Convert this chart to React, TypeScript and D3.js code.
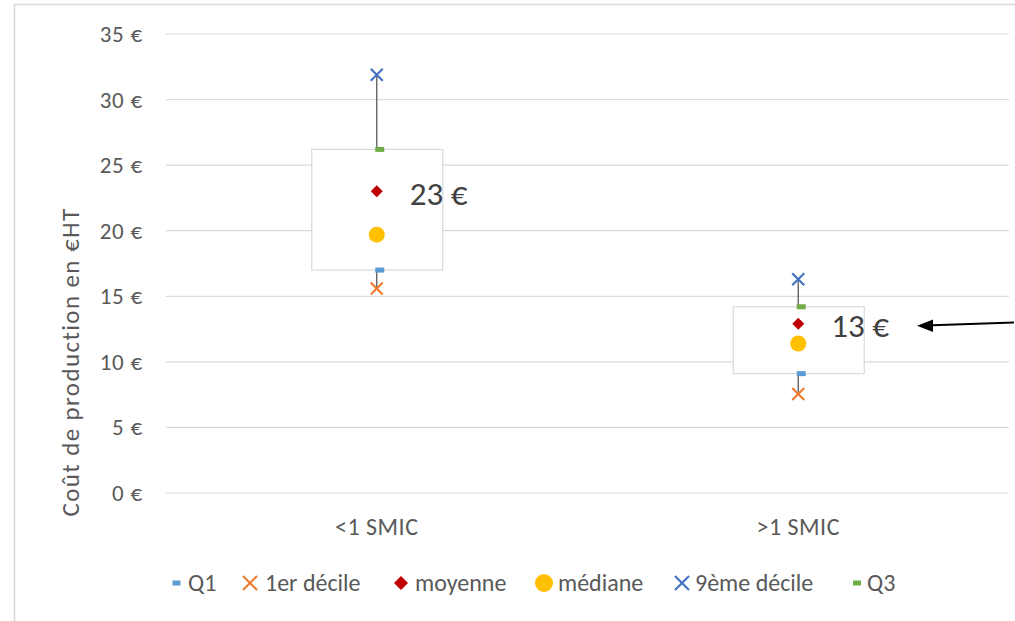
import React from "react";
import * as d3 from "d3";

const categories = ["<1 SMIC", ">1 SMIC"];
const q1 = [17.0, 9.1];
const decile1 = [15.6, 7.55];
const moyenne = [23.0, 12.9];
const mediane = [19.7, 11.4];
const decile9 = [31.9, 16.3];
const q3 = [26.2, 14.2];
const meanLabels = ["23 €", "13 €"];
const yTicks = [0, 5, 10, 15, 20, 25, 30, 35];
const legendItems = ["Q1", "1er décile", "moyenne", "médiane", "9ème décile", "Q3"];

const W = 1015;
const H = 621;
const FONT = "Carlito, Lato, 'Open Sans', sans-serif";

const C = {
  q1: "#5b9bd5",
  d1: "#ed7d31",
  mean: "#c00000",
  med: "#ffc000",
  d9: "#4472c4",
  q3: "#70ad47",
};

function Cross({ x, y, color, s = 6 }: { x: number; y: number; color: string; s?: number }) {
  return (
    <g stroke={color} strokeWidth={2.2}>
      <line x1={x - s} y1={y - s} x2={x + s} y2={y + s} />
      <line x1={x - s} y1={y + s} x2={x + s} y2={y - s} />
    </g>
  );
}

function Diamond({ x, y, color, s = 6 }: { x: number; y: number; color: string; s?: number }) {
  return <path d={`M${x},${y - s}L${x + s},${y}L${x},${y + s}L${x - s},${y}Z`} fill={color} />;
}

function Dash({ x, y, color }: { x: number; y: number; color: string }) {
  return <rect x={x - 4.5} y={y - 2.5} width={9} height={5} fill={color} />;
}

export default function App() {
  const y = d3.scaleLinear().domain([0, 35]).range([493, 34]);
  const x = d3.scaleBand().domain(categories).range([166, 1009]);
  const cx = (c: string) => (x(c) as number) + x.bandwidth() / 2;
  const boxW = 131;

  const legendMarkX = [176.5, 250, 401, 544, 682, 857];
  const legendTextX = [188, 265, 415, 558, 695, 867];
  const legendY = 583;

  return (
    <svg width={W} height={H} style={{ position: "absolute", left: 0, top: 0 }} fontFamily={FONT}>
      <rect x={0} y={0} width={W} height={H} fill="#fff" />
      <line x1={14} y1={4.5} x2={W} y2={4.5} stroke="#d9d9d9" strokeWidth={1.5} />
      <line x1={14.5} y1={4} x2={14.5} y2={H} stroke="#d9d9d9" strokeWidth={1.5} />

      {yTicks.map((t) => (
        <g key={t}>
          <line x1={166} x2={1009} y1={y(t)} y2={y(t)} stroke="#d9d9d9" strokeWidth={1.2} />
          <text x={143} y={y(t)} dy="0.35em" textAnchor="end" fontSize={23} letterSpacing={0.8} fill="#595959">
            {`${t} €`}
          </text>
        </g>
      ))}

      <text
        transform={`translate(70,362) rotate(-90)`}
        textAnchor="middle"
        dy="0.35em"
        fontSize={25}
        letterSpacing={1.4}
        fill="#595959"
      >
        Coût de production en €HT
      </text>

      {categories.map((c, i) => {
        const xc = cx(c);
        return (
          <g key={c}>
            <rect
              x={xc - boxW / 2 + 0.5}
              y={y(q3[i])}
              width={boxW}
              height={y(q1[i]) - y(q3[i])}
              fill="#fff"
              stroke="#d9d9d9"
              strokeWidth={1.2}
            />
            <line x1={xc} x2={xc} y1={y(decile9[i])} y2={y(q3[i])} stroke="#595959" strokeWidth={1.3} />
            <line x1={xc} x2={xc} y1={y(q1[i])} y2={y(decile1[i])} stroke="#595959" strokeWidth={1.3} />
            <Cross x={xc} y={y(decile9[i])} color={C.d9} />
            <Cross x={xc} y={y(decile1[i])} color={C.d1} />
            <Dash x={xc + 3} y={y(q3[i])} color={C.q3} />
            <Dash x={xc + 3} y={y(q1[i])} color={C.q1} />
            <Diamond x={xc} y={y(moyenne[i])} color={C.mean} />
            <circle cx={xc} cy={y(mediane[i])} r={8} fill={C.med} />
            <text x={xc + 33} y={y(moyenne[i]) + 2} dy="0.35em" fontSize={33} fill="#404040">
              {meanLabels[i]}
            </text>
            <text x={xc} y={527} dy="0.35em" textAnchor="middle" fontSize={24} letterSpacing={0.5} fill="#595959">
              {c}
            </text>
          </g>
        );
      })}

      <line x1={1014} y1={322.5} x2={925} y2={325.5} stroke="#000" strokeWidth={2.2} />
      <path d="M917,325.8L933,319.5L933,332Z" fill="#000" />

      {legendItems.map((name, i) => {
        const lx = legendMarkX[i];
        let mk: React.ReactNode = null;
        if (i === 0) mk = <rect x={lx - 4} y={legendY - 2.5} width={8} height={5} fill={C.q1} />;
        if (i === 1) mk = <Cross x={lx} y={legendY} color={C.d1} s={7} />;
        if (i === 2) mk = <Diamond x={lx} y={legendY} color={C.mean} s={7} />;
        if (i === 3) mk = <circle cx={lx} cy={legendY} r={9} fill={C.med} />;
        if (i === 4) mk = <Cross x={lx} y={legendY} color={C.d9} s={7} />;
        if (i === 5) mk = <rect x={lx - 4} y={legendY - 2.5} width={8} height={5} fill={C.q3} />;
        return (
          <g key={name}>
            {mk}
            <text x={legendTextX[i]} y={legendY} dy="0.35em" fontSize={24} fill="#595959">
              {name}
            </text>
          </g>
        );
      })}
    </svg>
  );
}
